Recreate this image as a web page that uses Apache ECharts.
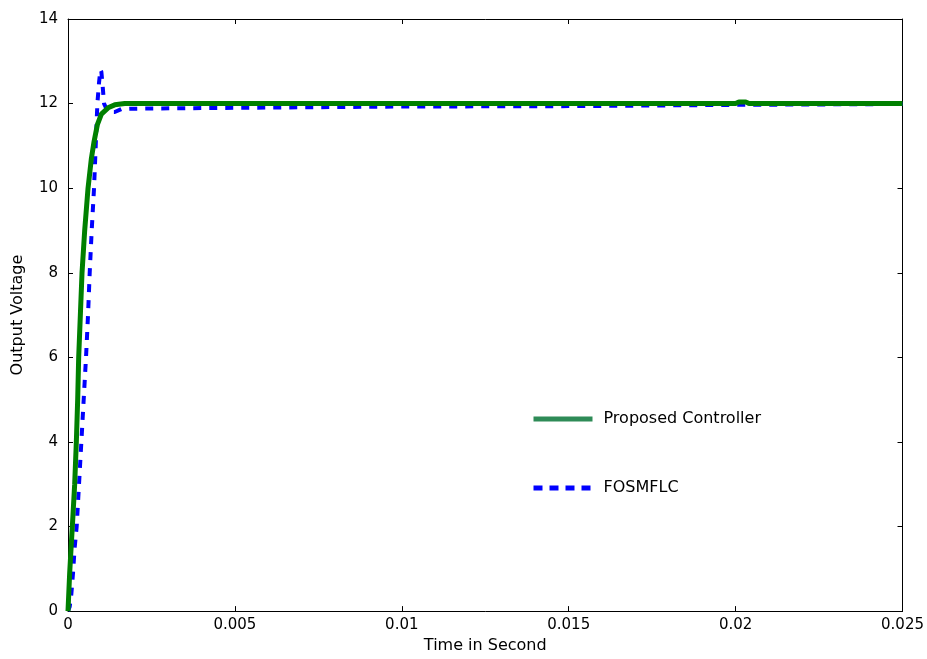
<!DOCTYPE html>
<html>
<head>
<meta charset="utf-8">
<script src="https://cdn.jsdelivr.net/npm/echarts@6/dist/echarts.min.js"></script>
<style>html,body{margin:0;padding:0;background:#fff}#c{width:927px;height:659px}</style>
</head>
<body>
<div id="c"></div>
<script>
var xTicks = [0, 0.005, 0.01, 0.015, 0.02, 0.025];
var yTicks = [0, 2, 4, 6, 8, 10, 12, 14];
var seriesNames = ['Proposed Controller', 'FOSMFLC'];

var proposedT = [0, 0.00005, 0.0001, 0.00013, 0.0002, 0.00025, 0.00029, 0.00032, 0.00037, 0.00042, 0.0005, 0.0006, 0.0007, 0.00078, 0.00088, 0.001, 0.0012, 0.0014, 0.0017, 0.0200, 0.0201, 0.0203, 0.0204, 0.025];
var proposedV = [0, 0.9, 1.6, 2.0, 3.0, 4.0, 5.0, 6.0, 7.0, 8.0, 9.0, 10.0, 10.7, 11.1, 11.5, 11.75, 11.9, 11.97, 12.0, 12.0, 12.04, 12.04, 12.0, 12.0];

var fosmT = [0, 0.00005, 0.0001, 0.00015, 0.0002, 0.00026, 0.00033, 0.0004, 0.00047, 0.00054, 0.0006, 0.00065, 0.00071, 0.00078, 0.00083, 0.00088, 0.00093, 0.00097, 0.001, 0.00104, 0.00108, 0.0012, 0.0014, 0.0016, 0.002, 0.005, 0.01, 0.015, 0.02, 0.025];
var fosmV = [0, 0.1, 0.4, 0.9, 1.5, 2.0, 3.0, 4.0, 5.0, 6.0, 7.0, 8.0, 9.0, 10.0, 11.0, 12.0, 12.5, 12.8, 12.75, 12.4, 12.0, 11.8, 11.8, 11.87, 11.88, 11.9, 11.93, 11.94, 11.97, 11.99];

function zip(a, b) { return a.map(function (v, i) { return [v, b[i]]; }); }

var font = 'DejaVu Sans, Liberation Sans, Arial, sans-serif';
var chart = echarts.init(document.getElementById('c'), null, {renderer: 'canvas'});
function axisCommon() {
  return {
    axisLine: {show: true, onZero: false, lineStyle: {color: '#000', width: 1}},
    axisTick: {show: true, inside: true, length: 5, lineStyle: {color: '#000'}},
    splitLine: {show: false}
  };
}
var hiddenSymbol = {color: 'rgba(0,0,0,0)', borderWidth: 0, opacity: 0};
chart.setOption({
  animation: false,
  backgroundColor: '#fff',
  grid: {left: 68, right: 24, top: 19, bottom: 46, containLabel: false},
  xAxis: [
    Object.assign({
      type: 'value', min: 0, max: 0.025, interval: 0.005, position: 'bottom',
      name: 'Time in Second', nameLocation: 'middle', nameGap: 24,
      nameTextStyle: {fontFamily: font, fontSize: 16, color: '#000'},
      axisLabel: {fontFamily: font, fontSize: 15, color: '#000', margin: 7,
        formatter: function (v) { return String(+v.toFixed(3)); }}
    }, axisCommon()),
    Object.assign({
      type: 'value', min: 0, max: 0.025, interval: 0.005, position: 'top',
      axisLabel: {show: false}
    }, axisCommon())
  ],
  yAxis: [
    Object.assign({
      type: 'value', min: 0, max: 14, interval: 2, position: 'left',
      name: 'Output Voltage', nameLocation: 'middle', nameGap: 42,
      nameTextStyle: {fontFamily: font, fontSize: 16, color: '#000'},
      axisLabel: {fontFamily: font, fontSize: 15, color: '#000', margin: 10}
    }, axisCommon()),
    Object.assign({
      type: 'value', min: 0, max: 14, interval: 2, position: 'right',
      axisLabel: {show: false}
    }, axisCommon())
  ],
  legend: {
    orient: 'vertical', left: 531, top: 411, padding: 0,
    itemWidth: 59, itemHeight: 18, itemGap: 53,
    textStyle: {fontFamily: font, fontSize: 16, color: '#000', padding: [0, 0, 0, 6]},
    data: [
      {name: seriesNames[0], itemStyle: hiddenSymbol, lineStyle: {color: '#2e8b57', width: 5, type: 'solid'}},
      {name: seriesNames[1], itemStyle: hiddenSymbol, lineStyle: {color: '#0000ff', width: 5, type: [9, 7]}}
    ]
  },
  series: [
    {
      name: seriesNames[1], type: 'line', data: zip(fosmT, fosmV),
      showSymbol: false, symbol: 'none', z: 2,
      lineStyle: {color: '#0000ff', width: 4, type: [8, 8]},
      itemStyle: {color: '#0000ff'}
    },
    {
      name: seriesNames[0], type: 'line', data: zip(proposedT, proposedV),
      showSymbol: false, symbol: 'none', z: 3,
      lineStyle: {color: '#008000', width: 5},
      itemStyle: {color: '#008000'}
    }
  ]
});
</script>
</body>
</html>
